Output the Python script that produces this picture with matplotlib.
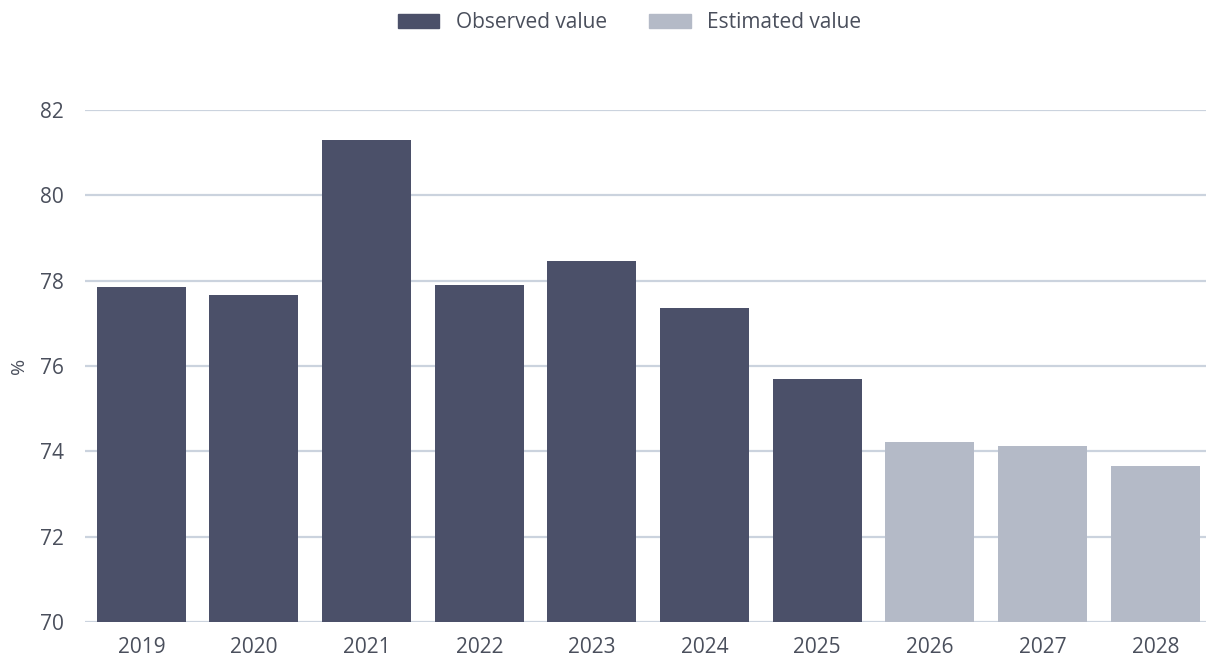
import matplotlib
matplotlib.use("Agg")
import matplotlib.pyplot as plt
from matplotlib.patches import Patch

plt.rcParams['font.family'] = ['Open Sans', 'DejaVu Sans']

years = ['2019', '2020', '2021', '2022', '2023', '2024', '2025', '2026', '2027', '2028']
values = [77.85, 77.66, 81.30, 77.90, 78.46, 77.36, 75.70, 74.22, 74.13, 73.66]
estimated = [False] * 7 + [True] * 3

dark = '#4b5069'
light = '#b4bac7'
grid_col = '#cbd3de'
text_col = '#4a4f5c'

fig = plt.figure(figsize=(12.06, 6.59), dpi=100)
ax = fig.add_axes([85 / 1206, 1 - 622 / 659, (1206 - 85) / 1206, (622 - 110) / 659])

colors = [light if e else dark for e in estimated]
ax.bar(range(len(years)), [v - 70 for v in values], bottom=70, width=0.79,
       color=colors, zorder=3)

ax.set_ylim(70, 82)
ax.set_xlim(-0.5, 9.45)
ax.set_yticks(range(70, 83, 2))
ax.set_xticks(range(len(years)))
ax.set_xticklabels(years)
ax.yaxis.grid(True, color=grid_col, linewidth=1.6, zorder=0)
ax.tick_params(axis='both', length=0, labelsize=15, colors=text_col)
ax.tick_params(axis='y', pad=15)
ax.tick_params(axis='x', pad=11)
for s in ax.spines.values():
    s.set_visible(False)
ax.set_ylabel('%', fontsize=14, color=text_col, labelpad=9)

handles = [Patch(color=dark, label='Observed value'),
           Patch(color=light, label='Estimated value')]
fig.legend(handles=handles, loc='center', bbox_to_anchor=(0.522, 1 - 23 / 659),
           ncol=2, frameon=False, fontsize=15, labelcolor=text_col,
           handlelength=2.0, handleheight=0.63, columnspacing=2.0, handletextpad=0.8)

fig.savefig('out.png', dpi=100, facecolor='white')
